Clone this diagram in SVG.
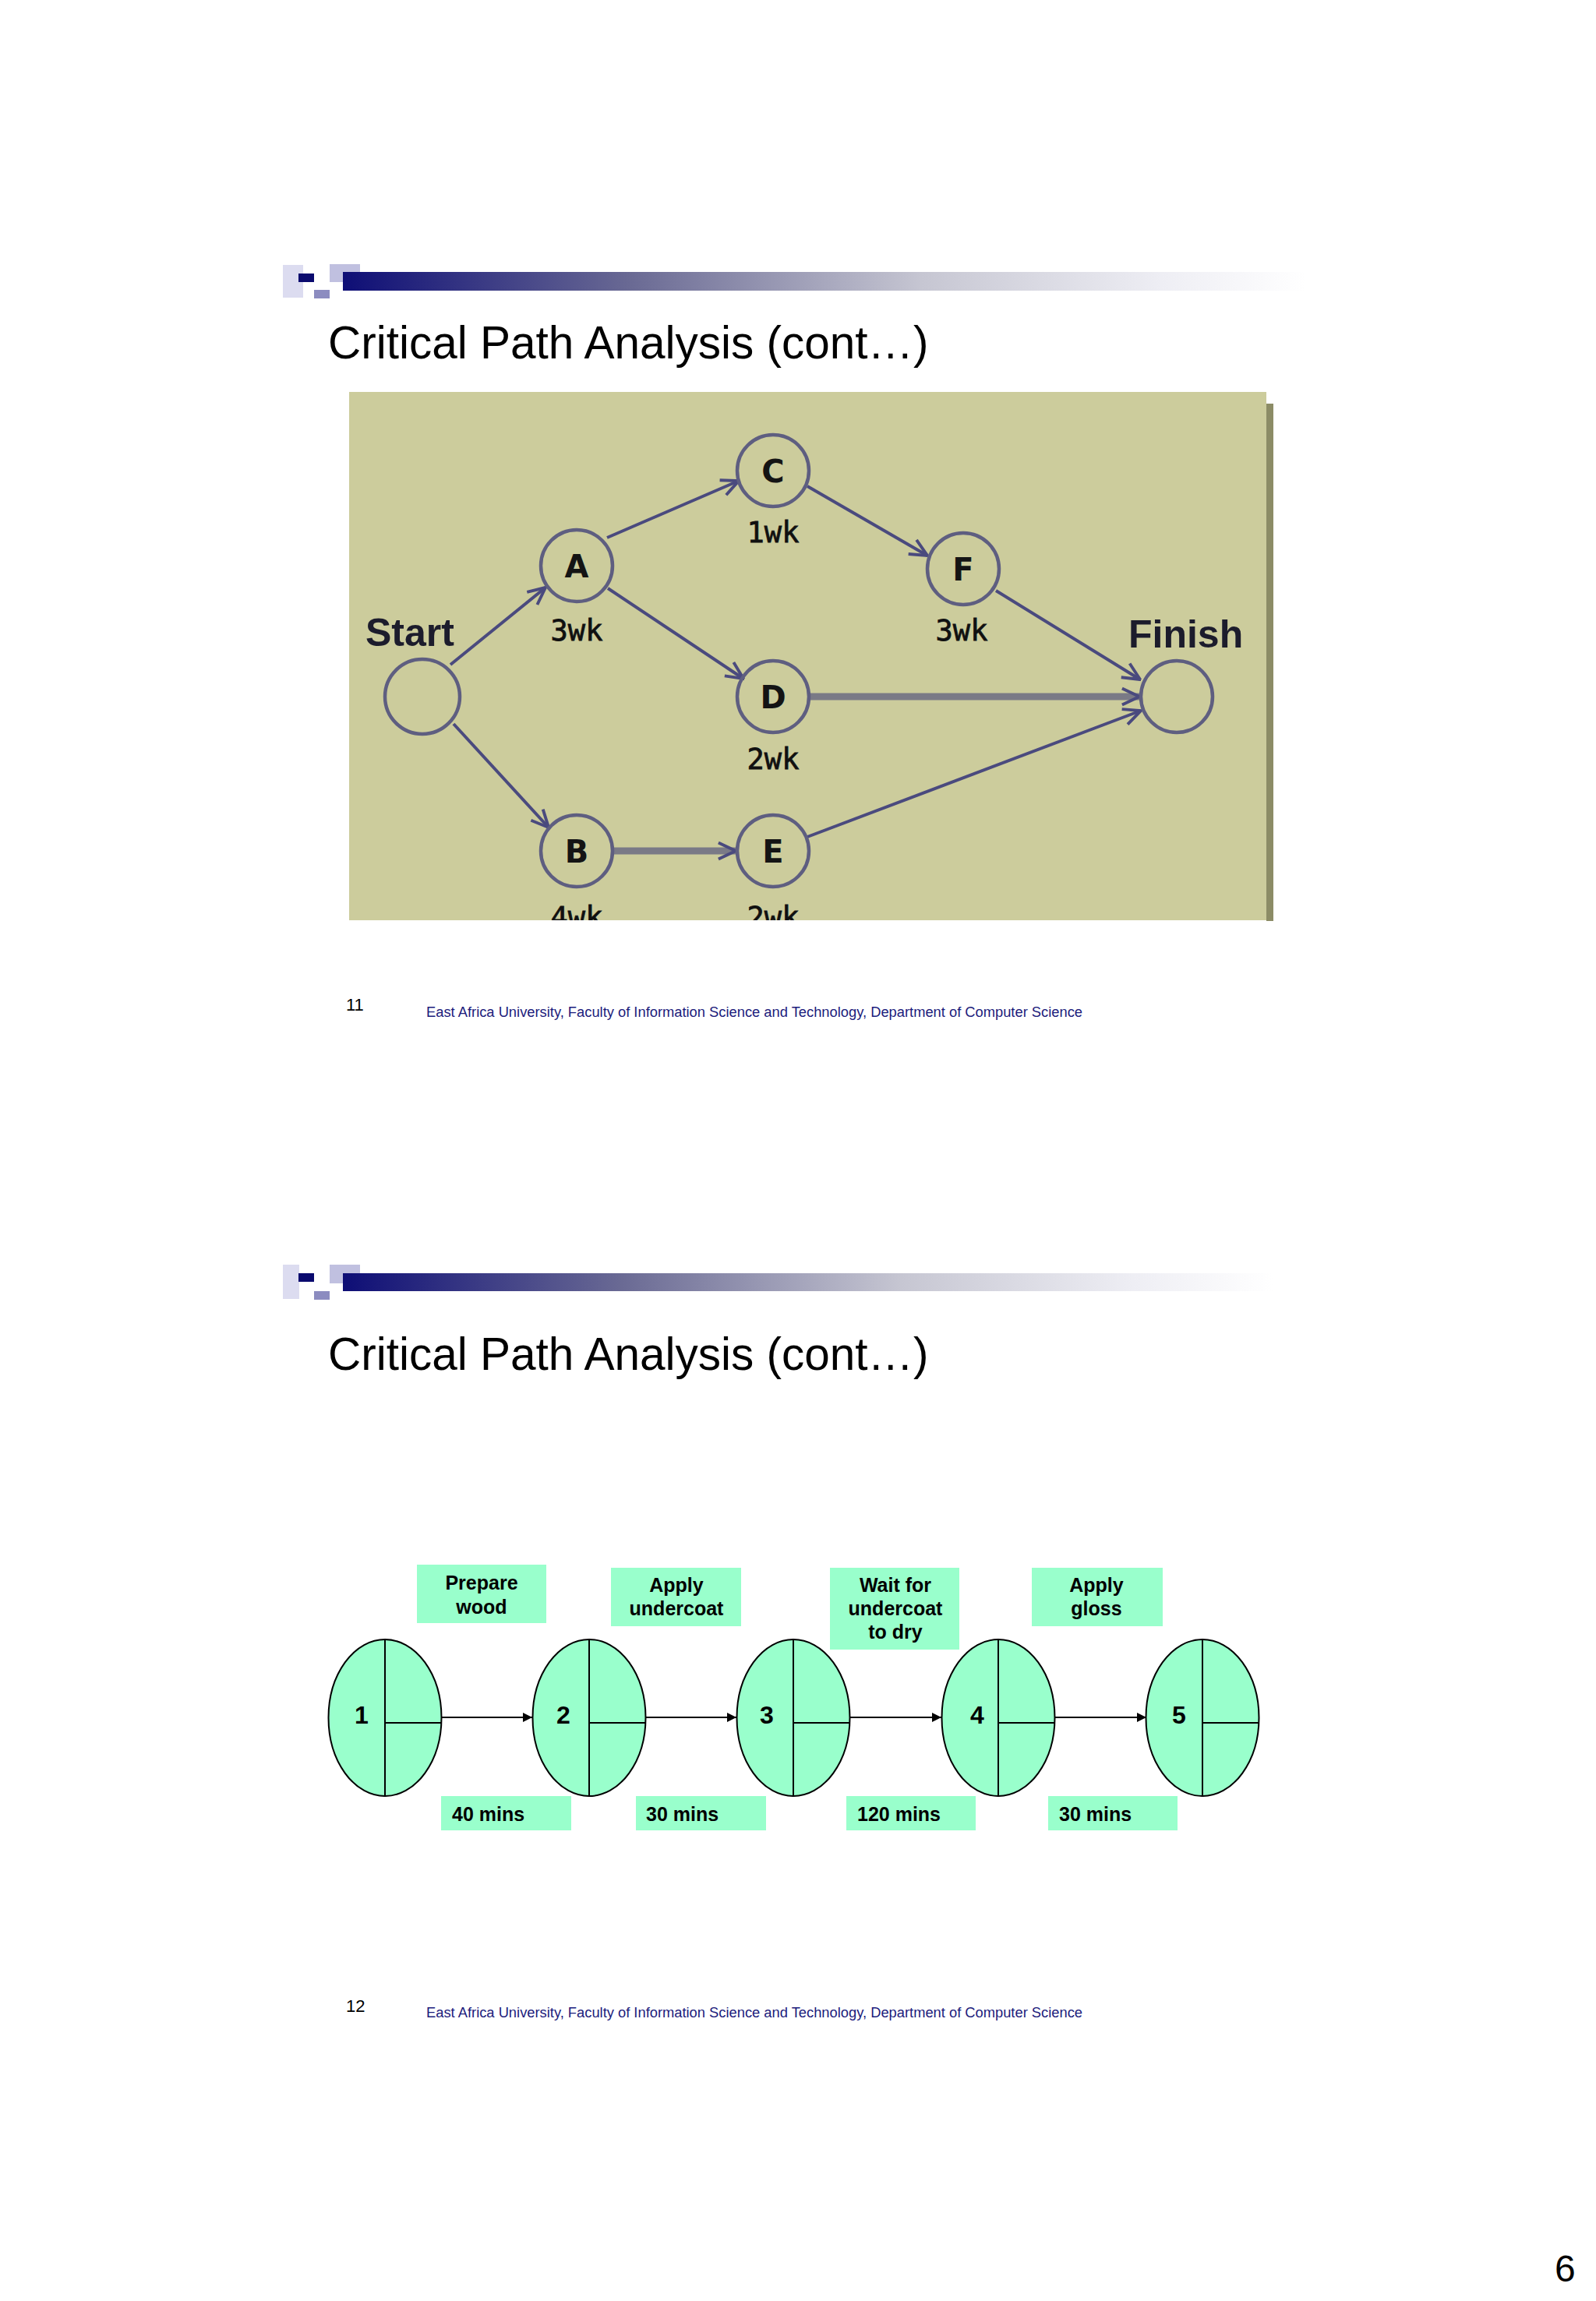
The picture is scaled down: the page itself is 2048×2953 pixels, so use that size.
<svg xmlns="http://www.w3.org/2000/svg" width="2048" height="2953" viewBox="0 0 2048 2953">
<defs>
<linearGradient id="barGrad" x1="0" y1="0" x2="1" y2="0">
<stop offset="0" stop-color="#0e0e76"/>
<stop offset="0.3" stop-color="#6a6a94"/>
<stop offset="0.6" stop-color="#c6c6d2"/>
<stop offset="0.85" stop-color="#eeeef4"/>
<stop offset="1" stop-color="#ffffff"/>
</linearGradient>
<marker id="openArrow" viewBox="0 0 20 20" refX="19" refY="10" markerWidth="26" markerHeight="26" markerUnits="userSpaceOnUse" orient="auto">
<path d="M2,2 L19,10 L2,18" fill="none" stroke="#4a4a7e" stroke-width="3"/>
</marker>
<marker id="solidArrow" viewBox="0 0 10 10" refX="10" refY="5" markerWidth="12" markerHeight="12" markerUnits="userSpaceOnUse" orient="auto">
<path d="M0,0 L10,5 L0,10 Z" fill="#000"/>
</marker>
<clipPath id="picClip"><rect x="448" y="503" width="1177" height="678"/></clipPath>
<style>
.title{font-family:"Liberation Sans",Arial,sans-serif;font-size:58.5px;fill:#000}
.footer{font-family:"Liberation Sans",Arial,sans-serif;font-size:18px;fill:#1c1c7c}
.pnum{font-family:"Liberation Sans",Arial,sans-serif;font-size:22px;fill:#000}
.node1 circle{fill:none;stroke:#5e5e80;stroke-width:4.5}
.letter{font-family:"DejaVu Sans","Liberation Sans",sans-serif;font-size:40px;font-weight:bold;fill:#141414;text-anchor:middle}
.dur{font-family:"DejaVu Sans Mono","Liberation Mono",monospace;font-size:37px;fill:#101010;stroke:#101010;stroke-width:0.8;text-anchor:middle}
.big{font-family:"Liberation Sans",Arial,sans-serif;font-size:50px;font-weight:bold;fill:#1c1c2c}
.edge{stroke:#4a4a7e;stroke-width:4;fill:none;marker-end:url(#openArrow)}
.edgeThick{stroke:#7a7a86;stroke-width:9;fill:none;marker-end:url(#openArrow)}
.ell{fill:#99ffcc;stroke:#000;stroke-width:2}
.div{stroke:#000;stroke-width:2}
.box{fill:#99ffcc}
.num{font-family:"Liberation Sans",Arial,sans-serif;font-size:32px;font-weight:bold;fill:#000;text-anchor:middle}
.lbl{font-family:"Liberation Sans",Arial,sans-serif;font-size:25px;font-weight:bold;fill:#000;text-anchor:middle}
.lblL{font-family:"Liberation Sans",Arial,sans-serif;font-size:25px;font-weight:bold;fill:#000}
.arr{stroke:#000;stroke-width:2;marker-end:url(#solidArrow)}
</style>
</defs>
<rect x="0" y="0" width="2048" height="2953" fill="#ffffff"/>

<!-- Slide 1 header -->
<g id="header1">
<rect x="363" y="340" width="26" height="42" fill="#dcdcf0"/>
<rect x="423" y="339" width="39" height="23" fill="#c0c0e0"/>
<rect x="403" y="372" width="20" height="11" fill="#8c8cc0"/>
<rect x="440" y="349" width="1236" height="24" fill="url(#barGrad)"/>
<rect x="383" y="351" width="20" height="11" fill="#0a0a6e"/>
<text class="title" x="421" y="460">Critical Path Analysis (cont…)</text>
</g>

<!-- Slide 1 picture -->
<rect x="1625" y="518" width="9" height="664" fill="#8c8c66"/>
<rect x="448" y="503" width="1177" height="678" fill="#cccc9c"/>
<g clip-path="url(#picClip)">
<g id="connectors1">
<line class="edge" x1="578" y1="853" x2="700" y2="754"/>
<line class="edge" x1="582" y1="929" x2="704" y2="1062"/>
<line class="edge" x1="779" y1="690" x2="948" y2="617"/>
<line class="edge" x1="780" y1="755" x2="954" y2="871"/>
<line class="edge" x1="1036" y1="624" x2="1190" y2="713"/>
<line class="edge" x1="1278" y1="758" x2="1463" y2="872"/>
<line class="edgeThick" x1="1040" y1="894" x2="1462" y2="894"/>
<line class="edgeThick" x1="787" y1="1092" x2="944" y2="1092"/>
<line class="edge" x1="1036" y1="1074" x2="1464" y2="912"/>
</g>
<g id="node-start" class="node1"><circle cx="542" cy="894" r="48"/><text class="big" x="469" y="829">Start</text></g>
<g id="node-finish" class="node1"><circle cx="1510" cy="894" r="46"/><text class="big" x="1448" y="831">Finish</text></g>
<g id="node-A" class="node1"><circle cx="740" cy="726" r="46"/><text class="letter" x="740" y="741">A</text><text class="dur" x="740" y="822">3wk</text></g>
<g id="node-C" class="node1"><circle cx="992" cy="604" r="46"/><text class="letter" x="992" y="619">C</text><text class="dur" x="992" y="696">1wk</text></g>
<g id="node-F" class="node1"><circle cx="1236" cy="730" r="46"/><text class="letter" x="1236" y="745">F</text><text class="dur" x="1234" y="822">3wk</text></g>
<g id="node-D" class="node1"><circle cx="992" cy="894" r="46"/><text class="letter" x="992" y="909">D</text><text class="dur" x="992" y="987">2wk</text></g>
<g id="node-B" class="node1"><circle cx="740" cy="1092" r="46"/><text class="letter" x="740" y="1107">B</text><text class="dur" x="740" y="1190">4wk</text></g>
<g id="node-E" class="node1"><circle cx="992" cy="1092" r="46"/><text class="letter" x="992" y="1107">E</text><text class="dur" x="992" y="1190">2wk</text></g>
</g>

<!-- Slide 1 footer -->
<text class="pnum" x="444" y="1297">11</text>
<text class="footer" x="547" y="1305" textLength="842" lengthAdjust="spacingAndGlyphs">East Africa University, Faculty of Information Science and Technology, Department of Computer Science</text>

<!-- Slide 2 header -->
<g id="header2">
<rect x="363" y="1623" width="21" height="44" fill="#dcdcf0"/>
<rect x="423" y="1623" width="39" height="24" fill="#c0c0e0"/>
<rect x="403" y="1657" width="20" height="11" fill="#8c8cc0"/>
<rect x="440" y="1634" width="1193" height="23" fill="url(#barGrad)"/>
<rect x="383" y="1634" width="20" height="11" fill="#0a0a6e"/>
<text class="title" x="421" y="1758">Critical Path Analysis (cont…)</text>
</g>

<!-- Slide 2 diagram -->
<g id="connectors2">
<line class="arr" x1="566" y1="2204" x2="683" y2="2204"/>
<line class="arr" x1="829" y1="2204" x2="945" y2="2204"/>
<line class="arr" x1="1091" y1="2204" x2="1208" y2="2204"/>
<line class="arr" x1="1353" y1="2204" x2="1471" y2="2204"/>
</g>
<g id="event1"><ellipse class="ell" cx="494" cy="2204.5" rx="72.5" ry="100.5"/><line class="div" x1="494" y1="2104" x2="494" y2="2305"/><line class="div" x1="494" y1="2211" x2="566.5" y2="2211"/><text class="num" x="464" y="2212">1</text></g>
<g id="event2"><ellipse class="ell" cx="756" cy="2204.5" rx="72.5" ry="100.5"/><line class="div" x1="756" y1="2104" x2="756" y2="2305"/><line class="div" x1="756" y1="2211" x2="828.5" y2="2211"/><text class="num" x="723" y="2212">2</text></g>
<g id="event3"><ellipse class="ell" cx="1018" cy="2204.5" rx="72.5" ry="100.5"/><line class="div" x1="1018" y1="2104" x2="1018" y2="2305"/><line class="div" x1="1018" y1="2211" x2="1090.5" y2="2211"/><text class="num" x="984" y="2212">3</text></g>
<g id="event4"><ellipse class="ell" cx="1281" cy="2204.5" rx="72.5" ry="100.5"/><line class="div" x1="1281" y1="2104" x2="1281" y2="2305"/><line class="div" x1="1281" y1="2211" x2="1353.5" y2="2211"/><text class="num" x="1254" y="2212">4</text></g>
<g id="event5"><ellipse class="ell" cx="1543" cy="2204.5" rx="72.5" ry="100.5"/><line class="div" x1="1543" y1="2104" x2="1543" y2="2305"/><line class="div" x1="1543" y1="2211" x2="1615.5" y2="2211"/><text class="num" x="1513" y="2212">5</text></g>

<g id="task-prepare"><rect class="box" x="535" y="2008" width="166" height="75"/><text class="lbl" x="618" y="2040">Prepare</text><text class="lbl" x="618" y="2071">wood</text></g>
<g id="task-undercoat"><rect class="box" x="784" y="2012" width="167" height="75"/><text class="lbl" x="868" y="2043">Apply</text><text class="lbl" x="868" y="2073">undercoat</text></g>
<g id="task-wait"><rect class="box" x="1065" y="2012" width="166" height="105"/><text class="lbl" x="1149" y="2043">Wait for</text><text class="lbl" x="1149" y="2073">undercoat</text><text class="lbl" x="1149" y="2103">to dry</text></g>
<g id="task-gloss"><rect class="box" x="1324" y="2012" width="168" height="75"/><text class="lbl" x="1407" y="2043">Apply</text><text class="lbl" x="1407" y="2073">gloss</text></g>

<g id="dur-40"><rect class="box" x="566" y="2305" width="167" height="44"/><text class="lblL" x="580" y="2337">40 mins</text></g>
<g id="dur-30a"><rect class="box" x="816" y="2305" width="167" height="44"/><text class="lblL" x="829" y="2337">30 mins</text></g>
<g id="dur-120"><rect class="box" x="1086" y="2305" width="166" height="44"/><text class="lblL" x="1100" y="2337">120 mins</text></g>
<g id="dur-30b"><rect class="box" x="1345" y="2305" width="166" height="44"/><text class="lblL" x="1359" y="2337">30 mins</text></g>

<!-- Slide 2 footer -->
<text class="pnum" x="444" y="2582">12</text>
<text class="footer" x="547" y="2589" textLength="842" lengthAdjust="spacingAndGlyphs">East Africa University, Faculty of Information Science and Technology, Department of Computer Science</text>

<text x="1995" y="2928" style="font-family:'Liberation Sans',Arial,sans-serif;font-size:48px;fill:#000">6</text>
</svg>
